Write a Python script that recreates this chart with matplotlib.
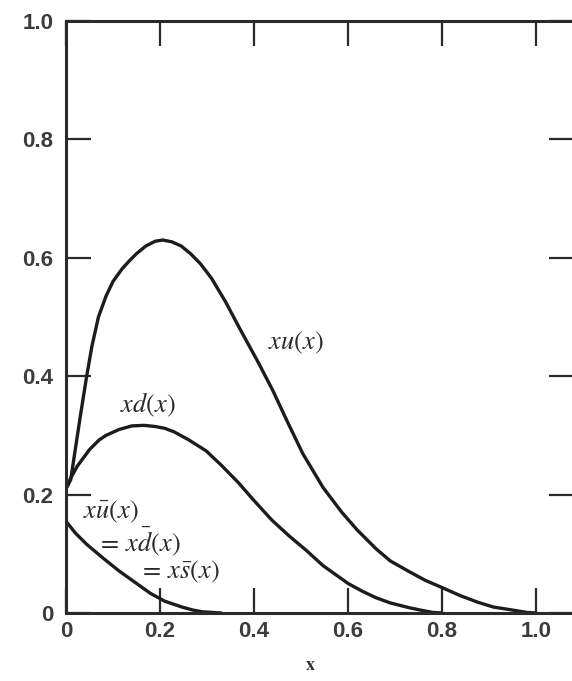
import matplotlib
matplotlib.use("Agg")
import matplotlib.pyplot as plt

# Parton momentum distributions x*f(x) versus x
x_u = [0.0, 0.01, 0.03, 0.044, 0.055, 0.069, 0.085, 0.10, 0.12, 0.135, 0.15,
       0.17, 0.19, 0.206, 0.225, 0.245, 0.265, 0.286, 0.31, 0.34, 0.37, 0.41,
       0.44, 0.47, 0.504, 0.547, 0.587, 0.62, 0.659, 0.69, 0.73, 0.765, 0.80,
       0.84, 0.877, 0.91, 0.95, 0.98, 1.0]
xu = [0.21, 0.225, 0.33, 0.40, 0.45, 0.50, 0.535, 0.56, 0.582, 0.595, 0.607,
      0.62, 0.628, 0.63, 0.627, 0.62, 0.607, 0.59, 0.565, 0.525, 0.48, 0.422,
      0.376, 0.325, 0.269, 0.212, 0.17, 0.14, 0.109, 0.088, 0.07, 0.055, 0.043,
      0.029, 0.018, 0.01, 0.005, 0.001, 0.0]

x_d = [0.0, 0.01, 0.024, 0.05, 0.07, 0.085, 0.113, 0.14, 0.166, 0.19, 0.21,
       0.23, 0.26, 0.298, 0.33, 0.367, 0.40, 0.438, 0.475, 0.511, 0.547, 0.60,
       0.63, 0.659, 0.69, 0.73, 0.76, 0.78, 0.80]
xd = [0.21, 0.228, 0.248, 0.276, 0.292, 0.30, 0.31, 0.316, 0.317, 0.315, 0.312,
      0.306, 0.293, 0.274, 0.25, 0.22, 0.19, 0.157, 0.13, 0.106, 0.08, 0.05,
      0.037, 0.026, 0.017, 0.009, 0.004, 0.001, 0.0]

x_sea = [0.0, 0.02, 0.044, 0.08, 0.113, 0.15, 0.18, 0.21, 0.247, 0.27, 0.29, 0.33]
xsea = [0.155, 0.135, 0.116, 0.092, 0.071, 0.05, 0.033, 0.02, 0.01, 0.005, 0.002, 0.0]

xticks = [0.0, 0.2, 0.4, 0.6, 0.8, 1.0]
xticklabels = ["0", "0.2", "0.4", "0.6", "0.8", "1.0"]
yticks = [0.0, 0.2, 0.4, 0.6, 0.8, 1.0]
yticklabels = ["0", "0.2", "0.4", "0.6", "0.8", "1.0"]

plt.rcParams["mathtext.fontset"] = "stix"

W, H = 572, 681
fig = plt.figure(figsize=(W / 100, H / 100), dpi=100)
fig.patch.set_facecolor("white")
left, right, bottom, top = 66, 574, 613, 21
ax = fig.add_axes([left / W, 1 - bottom / H, (right - left) / W, (bottom - top) / H])

ink = "#1c1c1c"
lw = 2.4
for xs, ys in [(x_u, xu), (x_d, xd), (x_sea, xsea)]:
    ax.plot(xs, ys, color=ink, lw=lw, solid_capstyle="round", solid_joinstyle="round")

ax.set_xlim(0, 1.081)
ax.set_ylim(0, 1.0)

for side in ["left", "bottom", "top", "right"]:
    ax.spines[side].set_linewidth(2.2)
    ax.spines[side].set_color("#2a2a2a")

ax.set_xticks(xticks)
ax.set_xticklabels(xticklabels)
ax.set_yticks(yticks)
ax.set_yticklabels(yticklabels)
ax.tick_params(axis="both", which="major", direction="in", length=18, width=1.6,
               color="#2a2a2a", top=True, right=True, labelsize=16, labelcolor="#3c3c3c")
ax.tick_params(axis="x", pad=6)
ax.tick_params(axis="y", pad=9)
for lab in ax.get_xticklabels() + ax.get_yticklabels():
    lab.set_fontfamily("Liberation Sans")
    lab.set_fontweight("bold")

ax.set_xlabel(r"$\mathbf{x}$", fontsize=13, color="#333333")
ax.xaxis.set_label_coords((310 - left) / (right - left), -0.072)

lab_kw = dict(fontsize=19, color="#2a2a2a")
ax.text(0.43, 0.456, r"$xu(x)$", ha="left", va="center", **lab_kw)
ax.text(0.115, 0.351, r"$xd(x)$", ha="left", va="center", **lab_kw)
ax.text(0.036, 0.171, r"$x\bar{u}(x)$", ha="left", va="center", **lab_kw)
ax.text(0.066, 0.120, r"$=\,x\bar{d}(x)$", ha="left", va="center", **lab_kw)
ax.text(0.155, 0.069, r"$=\,x\bar{s}(x)$", ha="left", va="center", **lab_kw)

fig.savefig("out.png", dpi=100, facecolor="white")
